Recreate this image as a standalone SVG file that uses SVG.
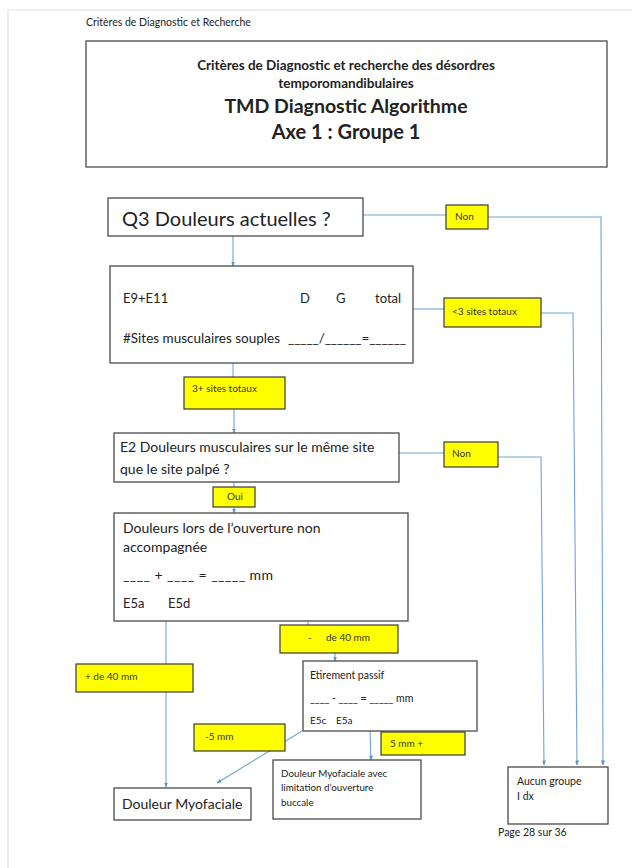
<svg xmlns="http://www.w3.org/2000/svg" width="632" height="868" viewBox="0 0 632 868">
<style>
text{font-family:Lato,"Open Sans","Liberation Sans",sans-serif;fill:#222}
.box{fill:#fff;stroke:#4a4a4a;stroke-width:1.3}
.lab{fill:#ffff00;stroke:#3a3a3a;stroke-width:1.2}
.lt{font-size:10px;fill:#333}
.con{fill:none;stroke:#6fa3d6;stroke-width:1.1}
.ttl{font-weight:bold;text-anchor:middle}
</style>
<defs>
<marker id="ah" viewBox="0 0 10 10" refX="9" refY="5" markerWidth="5" markerHeight="5" orient="auto" markerUnits="userSpaceOnUse">
<path d="M0,1 L10,5 L0,9 z" fill="#5b93cc"/>
</marker>
</defs>
<rect width="632" height="868" fill="#fff"/>
<path d="M8,868 V10 H632" fill="none" stroke="#e2e2e2" stroke-width="1.2"/>
<text x="86" y="26" font-size="10.5" fill="#444">Critères de Diagnostic et Recherche</text>

<g id="header">
<rect class="box" x="86" y="41" width="521" height="126"/>
<text class="ttl" x="346" y="70" font-size="13.5">Critères de Diagnostic et recherche des désordres</text>
<text class="ttl" x="346" y="88" font-size="13.5">temporomandibulaires</text>
<text class="ttl" x="346" y="113" font-size="19.5">TMD Diagnostic Algorithme</text>
<text class="ttl" x="346" y="139" font-size="20">Axe 1 : Groupe 1</text>
</g>

<g id="connectors">
<path class="con" d="M363,215 H446"/>
<path class="con" d="M488,217 H601 L603,765" marker-end="url(#ah)"/>
<path class="con" d="M233,236 V266" marker-end="url(#ah)"/>
<path class="con" d="M413,309 H444"/>
<path class="con" d="M541,313 H573 L577,765" marker-end="url(#ah)"/>
<path class="con" d="M233,363 V377"/>
<path class="con" d="M234,409 V433" marker-end="url(#ah)"/>
<path class="con" d="M399,453 H444"/>
<path class="con" d="M498,457 H541 L544,765" marker-end="url(#ah)"/>
<path class="con" d="M234,482 V487"/>
<path class="con" d="M234,507 V513" marker-end="url(#ah)"/>
<path class="con" d="M308,621 V625"/>
<path class="con" d="M335,653 V661" marker-end="url(#ah)"/>
<path class="con" d="M166,621 V787" marker-end="url(#ah)"/>
<path class="con" d="M302,731 L217,783" marker-end="url(#ah)"/>
<path class="con" d="M370,731 L371,760" marker-end="url(#ah)"/>
</g>

<g id="q3">
<rect class="box" x="108" y="198" width="255" height="38"/>
<text x="122" y="226" font-size="20">Q3 Douleurs actuelles ?</text>
</g>
<g id="non1">
<rect class="lab" x="446" y="205" width="42" height="24"/>
<text class="lt" x="455" y="220" font-size="9.5">Non</text>
</g>

<g id="e9">
<rect class="box" x="110" y="266" width="303" height="97"/>
<text x="123" y="303" font-size="13">E9+E11</text>
<text x="300" y="303" font-size="13">D</text>
<text x="336" y="303" font-size="13">G</text>
<text x="375" y="303" font-size="13">total</text>
<text x="123" y="343" font-size="13.5">#Sites musculaires souples</text>
<text x="288" y="343" font-size="13.5" textLength="118" lengthAdjust="spacing">_____/______=______</text>
</g>
<g id="lt3">
<rect class="lab" x="444" y="298" width="97" height="29"/>
<text class="lt" x="452" y="315">&lt;3 sites totaux</text>
</g>

<g id="plus3">
<rect class="lab" x="184" y="377" width="101" height="32"/>
<text class="lt" x="192" y="392">3+ sites totaux</text>
</g>

<g id="e2">
<rect class="box" x="114" y="433" width="285" height="49"/>
<text x="120" y="452" font-size="14">E2 Douleurs musculaires sur le même site</text>
<text x="120" y="474" font-size="14">que le site palpé ?</text>
</g>
<g id="non2">
<rect class="lab" x="444" y="442" width="54" height="25"/>
<text class="lt" x="452" y="457" font-size="9.5">Non</text>
</g>

<g id="oui">
<rect class="lab" x="213" y="487" width="42" height="20"/>
<text class="lt" x="227" y="500" font-size="7">Oui</text>
</g>

<g id="ouverture">
<rect class="box" x="114" y="513" width="294" height="108"/>
<text x="123" y="533" font-size="14">Douleurs lors de l’ouverture non</text>
<text x="123" y="552" font-size="14">accompagnée</text>
<text x="123" y="580" font-size="14" textLength="150" lengthAdjust="spacing">____ + ____ = _____ mm</text>
<text x="123" y="608" font-size="13">E5a</text>
<text x="168" y="608" font-size="13">E5d</text>
</g>

<g id="moins40">
<rect class="lab" x="280" y="625" width="118" height="28"/>
<text class="lt" x="308" y="641">-</text>
<text class="lt" x="326" y="641">de 40 mm</text>
</g>

<g id="plus40">
<rect class="lab" x="76" y="664" width="117" height="28"/>
<text class="lt" x="85" y="680">+ de 40 mm</text>
</g>

<g id="etirement">
<rect class="box" x="303" y="661" width="174" height="70"/>
<text x="310" y="679" font-size="10.5">Etirement passif</text>
<text x="310" y="702" font-size="10.5">____ - ____ = _____ mm</text>
<text x="310" y="724" font-size="10">E5c</text>
<text x="336" y="724" font-size="10">E5a</text>
</g>

<g id="moins5">
<rect class="lab" x="194" y="724" width="91" height="27"/>
<text class="lt" x="205" y="740">-5 mm</text>
</g>

<g id="plus5">
<rect class="lab" x="381" y="732" width="84" height="23"/>
<text class="lt" x="390" y="747">5 mm +</text>
</g>

<g id="myo">
<rect class="box" x="114" y="788" width="137" height="32"/>
<text x="122" y="809" font-size="14">Douleur Myofaciale</text>
</g>

<g id="myolim">
<rect class="box" x="273" y="760" width="148" height="59"/>
<text x="281" y="777" font-size="9.8">Douleur Myofaciale avec</text>
<text x="281" y="791" font-size="9.8">limitation d’ouverture</text>
<text x="281" y="806" font-size="9.8">buccale</text>
</g>

<g id="aucun">
<rect class="box" x="508" y="767" width="100" height="57"/>
<text x="517" y="785" font-size="10.5">Aucun groupe</text>
<text x="517" y="800" font-size="10.5">I dx</text>
</g>

<text x="498" y="836" font-size="10.5" fill="#333">Page 28 sur 36</text>
</svg>
